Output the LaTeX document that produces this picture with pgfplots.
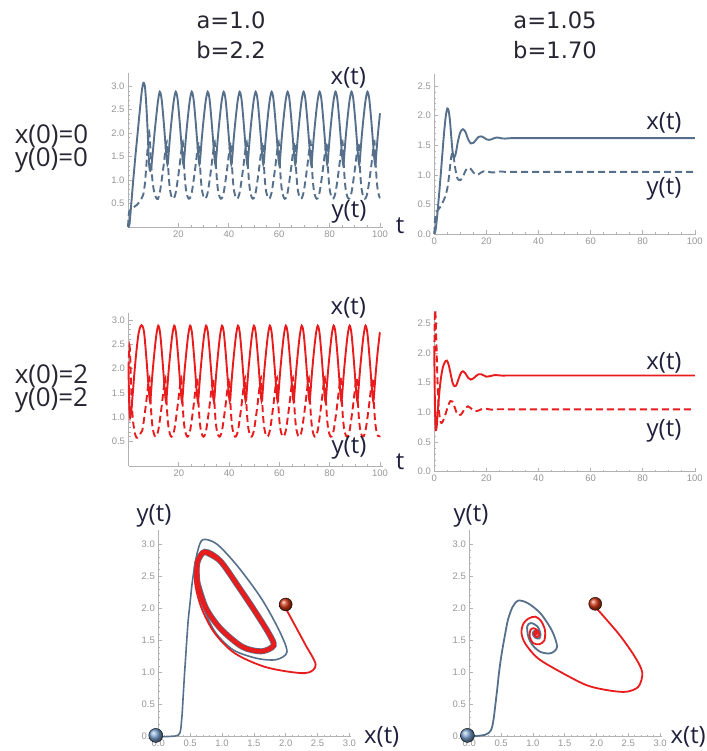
\documentclass[border=0pt]{standalone}
\usepackage{pgfplots}
\pgfplotsset{compat=1.18}
\usepackage{pgfplotstable}
\usepackage{fontspec}
\setmainfont{Liberation Sans}
\newfontfamily\osans{Open Sans}
\newfontfamily\dvs{DejaVu Sans}
\definecolor{mblue}{RGB}{86,112,140}
\definecolor{mred}{RGB}{232,28,28}
\definecolor{tickgray}{RGB}{150,150,150}
\definecolor{axgray}{RGB}{178,178,178}
\definecolor{lab}{RGB}{30,32,60}
\definecolor{ttl}{RGB}{40,38,50}
\definecolor{bballc}{RGB}{120,160,205}
\definecolor{rballc}{RGB}{205,55,20}

% columns: t, s (solid curve), d (dashed curve)
\pgfplotstableread{
t s d
0.0 0.00 0.00
0.3 0.01 0.26
0.6 0.06 0.34
1.0 0.30 0.37
1.5 0.62 0.39
2.0 0.95 0.41
2.5 1.25 0.43
3.0 1.55 0.45
3.5 1.82 0.47
4.0 2.10 0.50
4.5 2.38 0.53
5.0 2.65 0.57
5.5 2.90 0.62
6.1 3.07 0.70
6.7 3.00 0.92
7.2 2.65 1.25
7.7 2.15 1.62
8.1 1.65 1.90
8.4 1.32 2.02
8.7 1.20 1.85
9.0 1.22 1.55
9.4 1.35 1.18
9.9 1.62 0.90
10.5 1.98 0.72
11.2 2.35 0.62
11.9 2.68 0.60
12.6 2.88 0.73
13.3 2.74 0.97
14.0 2.35 1.25
14.6 1.95 1.52
15.1 1.60 1.74
15.4 1.42 1.81
15.65 1.33 1.62
15.9 1.40 1.32
16.3 1.68 0.98
16.8 2.00 0.75
17.5 2.38 0.62
18.2 2.70 0.61
18.94 2.88 0.73
19.64 2.74 0.97
20.34 2.35 1.25
20.94 1.95 1.52
21.44 1.60 1.74
21.74 1.42 1.81
21.99 1.33 1.62
22.24 1.40 1.32
22.64 1.68 0.98
23.14 2.00 0.75
23.84 2.38 0.62
24.54 2.70 0.61
25.28 2.88 0.73
25.98 2.74 0.97
26.68 2.35 1.25
27.28 1.95 1.52
27.78 1.60 1.74
28.08 1.42 1.81
28.33 1.33 1.62
28.58 1.40 1.32
28.98 1.68 0.98
29.48 2.00 0.75
30.18 2.38 0.62
30.88 2.70 0.61
31.62 2.88 0.73
32.32 2.74 0.97
33.02 2.35 1.25
33.62 1.95 1.52
34.12 1.60 1.74
34.42 1.42 1.81
34.67 1.33 1.62
34.92 1.40 1.32
35.32 1.68 0.98
35.82 2.00 0.75
36.52 2.38 0.62
37.22 2.70 0.61
37.96 2.88 0.73
38.66 2.74 0.97
39.36 2.35 1.25
39.96 1.95 1.52
40.46 1.60 1.74
40.76 1.42 1.81
41.01 1.33 1.62
41.26 1.40 1.32
41.66 1.68 0.98
42.16 2.00 0.75
42.86 2.38 0.62
43.56 2.70 0.61
44.30 2.88 0.73
45.00 2.74 0.97
45.70 2.35 1.25
46.30 1.95 1.52
46.80 1.60 1.74
47.10 1.42 1.81
47.35 1.33 1.62
47.60 1.40 1.32
48.00 1.68 0.98
48.50 2.00 0.75
49.20 2.38 0.62
49.90 2.70 0.61
50.64 2.88 0.73
51.34 2.74 0.97
52.04 2.35 1.25
52.64 1.95 1.52
53.14 1.60 1.74
53.44 1.42 1.81
53.69 1.33 1.62
53.94 1.40 1.32
54.34 1.68 0.98
54.84 2.00 0.75
55.54 2.38 0.62
56.24 2.70 0.61
56.98 2.88 0.73
57.68 2.74 0.97
58.38 2.35 1.25
58.98 1.95 1.52
59.48 1.60 1.74
59.78 1.42 1.81
60.03 1.33 1.62
60.28 1.40 1.32
60.68 1.68 0.98
61.18 2.00 0.75
61.88 2.38 0.62
62.58 2.70 0.61
63.32 2.88 0.73
64.02 2.74 0.97
64.72 2.35 1.25
65.32 1.95 1.52
65.82 1.60 1.74
66.12 1.42 1.81
66.37 1.33 1.62
66.62 1.40 1.32
67.02 1.68 0.98
67.52 2.00 0.75
68.22 2.38 0.62
68.92 2.70 0.61
69.66 2.88 0.73
70.36 2.74 0.97
71.06 2.35 1.25
71.66 1.95 1.52
72.16 1.60 1.74
72.46 1.42 1.81
72.71 1.33 1.62
72.96 1.40 1.32
73.36 1.68 0.98
73.86 2.00 0.75
74.56 2.38 0.62
75.26 2.70 0.61
76.00 2.88 0.73
76.70 2.74 0.97
77.40 2.35 1.25
78.00 1.95 1.52
78.50 1.60 1.74
78.80 1.42 1.81
79.05 1.33 1.62
79.30 1.40 1.32
79.70 1.68 0.98
80.20 2.00 0.75
80.90 2.38 0.62
81.60 2.70 0.61
82.34 2.88 0.73
83.04 2.74 0.97
83.74 2.35 1.25
84.34 1.95 1.52
84.84 1.60 1.74
85.14 1.42 1.81
85.39 1.33 1.62
85.64 1.40 1.32
86.04 1.68 0.98
86.54 2.00 0.75
87.24 2.38 0.62
87.94 2.70 0.61
88.68 2.88 0.73
89.38 2.74 0.97
90.08 2.35 1.25
90.68 1.95 1.52
91.18 1.60 1.74
91.48 1.42 1.81
91.73 1.33 1.62
91.98 1.40 1.32
92.38 1.68 0.98
92.88 2.00 0.75
93.58 2.38 0.62
94.28 2.70 0.61
95.02 2.88 0.73
95.72 2.74 0.97
96.42 2.35 1.25
97.02 1.95 1.52
97.52 1.60 1.74
97.82 1.42 1.81
98.07 1.33 1.62
98.32 1.40 1.32
98.72 1.68 0.98
99.22 2.00 0.75
99.92 2.38 0.62
100.0 2.42 0.615
}\tabA

\pgfplotstableread{
t s d
0.00 2.00 2.00
0.20 1.45 2.30
0.40 1.12 2.47
0.65 0.99 2.30
1.00 1.08 1.70
1.40 1.30 1.20
1.90 1.62 0.88
2.50 2.00 0.68
3.20 2.38 0.58
4.00 2.72 0.60
4.80 2.87 0.67
5.50 2.88 0.73
6.20 2.74 0.97
6.90 2.35 1.25
7.50 1.95 1.52
8.00 1.60 1.74
8.30 1.42 1.81
8.55 1.33 1.62
8.80 1.40 1.32
9.20 1.68 0.98
9.70 2.00 0.75
10.40 2.38 0.62
11.10 2.70 0.61
11.84 2.88 0.73
12.54 2.74 0.97
13.24 2.35 1.25
13.84 1.95 1.52
14.34 1.60 1.74
14.64 1.42 1.81
14.89 1.33 1.62
15.14 1.40 1.32
15.54 1.68 0.98
16.04 2.00 0.75
16.74 2.38 0.62
17.44 2.70 0.61
18.18 2.88 0.73
18.88 2.74 0.97
19.58 2.35 1.25
20.18 1.95 1.52
20.68 1.60 1.74
20.98 1.42 1.81
21.23 1.33 1.62
21.48 1.40 1.32
21.88 1.68 0.98
22.38 2.00 0.75
23.08 2.38 0.62
23.78 2.70 0.61
24.52 2.88 0.73
25.22 2.74 0.97
25.92 2.35 1.25
26.52 1.95 1.52
27.02 1.60 1.74
27.32 1.42 1.81
27.57 1.33 1.62
27.82 1.40 1.32
28.22 1.68 0.98
28.72 2.00 0.75
29.42 2.38 0.62
30.12 2.70 0.61
30.86 2.88 0.73
31.56 2.74 0.97
32.26 2.35 1.25
32.86 1.95 1.52
33.36 1.60 1.74
33.66 1.42 1.81
33.91 1.33 1.62
34.16 1.40 1.32
34.56 1.68 0.98
35.06 2.00 0.75
35.76 2.38 0.62
36.46 2.70 0.61
37.20 2.88 0.73
37.90 2.74 0.97
38.60 2.35 1.25
39.20 1.95 1.52
39.70 1.60 1.74
40.00 1.42 1.81
40.25 1.33 1.62
40.50 1.40 1.32
40.90 1.68 0.98
41.40 2.00 0.75
42.10 2.38 0.62
42.80 2.70 0.61
43.54 2.88 0.73
44.24 2.74 0.97
44.94 2.35 1.25
45.54 1.95 1.52
46.04 1.60 1.74
46.34 1.42 1.81
46.59 1.33 1.62
46.84 1.40 1.32
47.24 1.68 0.98
47.74 2.00 0.75
48.44 2.38 0.62
49.14 2.70 0.61
49.88 2.88 0.73
50.58 2.74 0.97
51.28 2.35 1.25
51.88 1.95 1.52
52.38 1.60 1.74
52.68 1.42 1.81
52.93 1.33 1.62
53.18 1.40 1.32
53.58 1.68 0.98
54.08 2.00 0.75
54.78 2.38 0.62
55.48 2.70 0.61
56.22 2.88 0.73
56.92 2.74 0.97
57.62 2.35 1.25
58.22 1.95 1.52
58.72 1.60 1.74
59.02 1.42 1.81
59.27 1.33 1.62
59.52 1.40 1.32
59.92 1.68 0.98
60.42 2.00 0.75
61.12 2.38 0.62
61.82 2.70 0.61
62.56 2.88 0.73
63.26 2.74 0.97
63.96 2.35 1.25
64.56 1.95 1.52
65.06 1.60 1.74
65.36 1.42 1.81
65.61 1.33 1.62
65.86 1.40 1.32
66.26 1.68 0.98
66.76 2.00 0.75
67.46 2.38 0.62
68.16 2.70 0.61
68.90 2.88 0.73
69.60 2.74 0.97
70.30 2.35 1.25
70.90 1.95 1.52
71.40 1.60 1.74
71.70 1.42 1.81
71.95 1.33 1.62
72.20 1.40 1.32
72.60 1.68 0.98
73.10 2.00 0.75
73.80 2.38 0.62
74.50 2.70 0.61
75.24 2.88 0.73
75.94 2.74 0.97
76.64 2.35 1.25
77.24 1.95 1.52
77.74 1.60 1.74
78.04 1.42 1.81
78.29 1.33 1.62
78.54 1.40 1.32
78.94 1.68 0.98
79.44 2.00 0.75
80.14 2.38 0.62
80.84 2.70 0.61
81.58 2.88 0.73
82.28 2.74 0.97
82.98 2.35 1.25
83.58 1.95 1.52
84.08 1.60 1.74
84.38 1.42 1.81
84.63 1.33 1.62
84.88 1.40 1.32
85.28 1.68 0.98
85.78 2.00 0.75
86.48 2.38 0.62
87.18 2.70 0.61
87.92 2.88 0.73
88.62 2.74 0.97
89.32 2.35 1.25
89.92 1.95 1.52
90.42 1.60 1.74
90.72 1.42 1.81
90.97 1.33 1.62
91.22 1.40 1.32
91.62 1.68 0.98
92.12 2.00 0.75
92.82 2.38 0.62
93.52 2.70 0.61
94.26 2.88 0.73
94.96 2.74 0.97
95.66 2.35 1.25
96.26 1.95 1.52
96.76 1.60 1.74
97.06 1.42 1.81
97.31 1.33 1.62
97.56 1.40 1.32
97.96 1.68 0.98
98.46 2.00 0.75
99.16 2.38 0.62
99.86 2.70 0.61
100.0 2.74 0.62
}\tabC

\pgfplotstableread{
t s d
0.0 0.00 0.00
0.3 0.03 0.25
0.6 0.10 0.34
1.0 0.26 0.38
1.5 0.50 0.41
2.0 0.75 0.44
2.5 1.02 0.47
3.0 1.30 0.51
3.5 1.58 0.56
4.0 1.83 0.61
4.5 2.02 0.68
5.0 2.12 0.77
5.5 2.08 0.92
6.0 1.92 1.12
6.5 1.65 1.30
7.0 1.40 1.38
7.5 1.30 1.28
8.0 1.32 1.12
8.5 1.42 1.00
9.0 1.55 0.93
10.0 1.72 0.91
11.0 1.77 0.97
12.0 1.72 1.07
13.0 1.60 1.12
14.0 1.53 1.10
15.0 1.54 1.04
16.0 1.59 1.00
17.0 1.64 1.01
18.0 1.65 1.04
19.0 1.63 1.06
20.0 1.60 1.06
21.0 1.59 1.05
22.0 1.60 1.04
23.0 1.62 1.04
24.0 1.63 1.05
25.0 1.625 1.055
26.0 1.615 1.055
27.0 1.612 1.05
28.0 1.615 1.047
30.0 1.62 1.05
35.0 1.619 1.05
50.0 1.619 1.05
75.0 1.619 1.05
100.0 1.619 1.05
}\tabB

\pgfplotstableread{
t s d
0.00 2.00 2.00
0.10 1.60 2.35
0.20 1.25 2.60
0.30 1.00 2.72
0.45 0.78 2.66
0.60 0.70 2.47
0.80 0.72 2.20
1.00 0.80 1.85
1.30 1.00 1.45
1.70 1.22 1.08
2.20 1.45 0.88
2.70 1.62 0.82
3.30 1.76 0.85
4.00 1.84 0.93
4.80 1.87 1.04
5.50 1.80 1.13
6.20 1.66 1.19
7.00 1.50 1.18
7.70 1.44 1.10
8.50 1.46 1.00
9.30 1.56 0.95
10.20 1.66 0.96
11.00 1.69 1.01
12.00 1.65 1.08
13.00 1.58 1.10
14.00 1.55 1.07
15.00 1.57 1.03
16.00 1.61 1.02
17.00 1.64 1.03
18.00 1.64 1.05
19.00 1.62 1.06
20.00 1.60 1.06
21.00 1.605 1.05
22.00 1.615 1.045
23.00 1.625 1.045
24.00 1.625 1.05
26.00 1.618 1.052
28.00 1.619 1.05
35.00 1.619 1.05
50.00 1.619 1.05
75.00 1.619 1.05
100.00 1.619 1.05
}\tabD

\pgfplotsset{
 mm/.style={scale only axis, axis lines*=left, enlargelimits=false, clip=false,
  axis line style={axgray, line width=0.7bp},
  tick style={axgray, line width=0.6bp},
  tick align=inside, major tick length=4bp, minor tick length=2bp,
  ticklabel style={font=\fontsize{9.5}{10}\selectfont, text=tickgray},
  /pgf/number format/assume math mode=true,
  minor y tick num=4,
  yticklabel style={/pgf/number format/fixed, /pgf/number format/fixed zerofill, /pgf/number format/precision=1},
 },
 ts/.style={mm, minor x tick num=3, xmin=0},
 ph/.style={mm, minor x tick num=4, xmin=0, xmax=3.03, ymin=0, ymax=3.22,
  width=193bp, height=206.7bp,
  xtick={0,0.5,1,1.5,2,2.5,3}, ytick={0,0.5,1,1.5,2,2.5,3},
  xticklabel style={/pgf/number format/fixed, /pgf/number format/fixed zerofill, /pgf/number format/precision=1}},
 sol/.style={line width=1.9bp, smooth, tension=0.5},
 das/.style={line width=1.9bp, smooth, tension=0.5, dash pattern=on 7bp off 4bp},
}

\begin{document}
\begin{tikzpicture}
\useasboundingbox (0,0) rectangle (707bp,751bp);

% titles
\begin{scope}[every node/.style={anchor=base, font=\dvs\fontsize{22.7}{26}\selectfont, text=ttl, inner sep=0pt}]
\node at (231bp,722.7bp) {a=1.0};
\node at (231bp,692.7bp) {b=2.2};
\node at (555bp,722.7bp) {a=1.05};
\node at (555bp,692.7bp) {b=1.70};
\end{scope}
\begin{scope}[every node/.style={anchor=base, font=\osans\fontsize{26}{28}\selectfont, text=ttl, inner sep=0pt}]
\node at (51.5bp,607.7bp) {x(0)=0};
\node at (51.5bp,584.3bp) {y(0)=0};
\node at (51.5bp,367.7bp) {x(0)=2};
\node at (51.5bp,344.3bp) {y(0)=2};
\end{scope}

% top-left
\begin{axis}[ts, at={(128bp,524bp)}, width=254.5bp, height=154bp, xmax=101, ymin=0, ymax=3.28,
  xtick={20,40,60,80,100}, ytick={0.5,1,1.5,2,2.5,3}]
\addplot[das, mblue] table[x=t, y=d] {\tabA};
\addplot[sol, mblue] table[x=t, y=s] {\tabA};
\end{axis}

% top-right
\begin{axis}[ts, at={(434.3bp,517bp)}, width=261.8bp, height=160.4bp, xmax=100.5, ymin=0, ymax=2.71,
  xtick={0,20,40,60,80,100}, ytick={0,0.5,1,1.5,2,2.5}]
\addplot[das, mblue] table[x=t, y=d] {\tabB};
\addplot[sol, mblue] table[x=t, y=s] {\tabB};
\end{axis}

% middle-left
\begin{axis}[ts, at={(128.5bp,285bp)}, width=254bp, height=153bp, xmax=101, ymin=0, ymax=3.14,
  xtick={20,40,60,80,100}, ytick={0.5,1,1.5,2,2.5,3}]
\addplot[das, mred] table[x=t, y=d] {\tabC};
\addplot[sol, mred] table[x=t, y=s] {\tabC};
\end{axis}

% middle-right
\begin{axis}[ts, at={(434.3bp,279.3bp)}, width=261.8bp, height=160.4bp, xmax=100.5, ymin=0, ymax=2.7,
  xtick={0,20,40,60,80,100}, ytick={0,0.5,1,1.5,2,2.5}]
\addplot[das, mred] table[x=t, y=d] {\tabD};
\addplot[sol, mred] table[x=t, y=s] {\tabD};
\end{axis}

% bottom-left phase
\begin{axis}[ph, at={(158.3bp,14.3bp)}]
\addplot[mblue, line width=1.6bp, smooth, tension=0.5] table[x=d, y=s] {\tabA};
\addplot[mblue, line width=6bp, smooth, tension=0.5, skip coords between index={0}{26}] table[x=d, y=s] {\tabA};
\addplot[mred, line width=1.8bp, smooth, tension=0.5] table[x=d, y=s] {\tabC};
\addplot[mred, line width=4.5bp, smooth, tension=0.5, skip coords between index={0}{11}] table[x=d, y=s] {\tabC};
\addplot[only marks, mark=ball, mark size=7bp, mark options={ball color=bballc}] coordinates {(-0.04,0.02)};
\addplot[only marks, mark=ball, mark size=6.5bp, mark options={ball color=rballc}] coordinates {(2.0,2.06)};
\end{axis}

% bottom-right phase
\begin{axis}[ph, at={(469.3bp,14.3bp)}, width=192.7bp]
\addplot[mblue, line width=1.8bp, smooth, tension=0.5] table[x=d, y=s] {\tabB};
\addplot[mred, line width=1.8bp, smooth, tension=0.5] table[x=d, y=s] {\tabD};
\addplot[only marks, mark=ball, mark size=7bp, mark options={ball color=bballc}] coordinates {(-0.03,0.02)};
\addplot[only marks, mark=ball, mark size=6.5bp, mark options={ball color=rballc}] coordinates {(1.98,2.07)};
\end{axis}

% in-plot labels
\begin{scope}[every node/.style={anchor=base, font=\osans\fontsize{24}{26}\selectfont, text=lab, inner sep=0pt}]
\node at (348.3bp,666bp) {x(t)};
\node at (349bp,533bp) {y(t)};
\node at (400bp,517.7bp) {t};
\node at (664bp,621bp) {x(t)};
\node at (664bp,556bp) {y(t)};
\node at (348.3bp,436bp) {x(t)};
\node at (349bp,297.7bp) {y(t)};
\node at (400bp,281bp) {t};
\node at (664bp,381bp) {x(t)};
\node at (664bp,314.3bp) {y(t)};
\node at (154bp,229.3bp) {y(t)};
\node at (381.7bp,8bp) {x(t)};
\node at (471bp,229.3bp) {y(t)};
\node[anchor=base east] at (706bp,8bp) {x(t)};
\end{scope}
\end{tikzpicture}
\end{document}
